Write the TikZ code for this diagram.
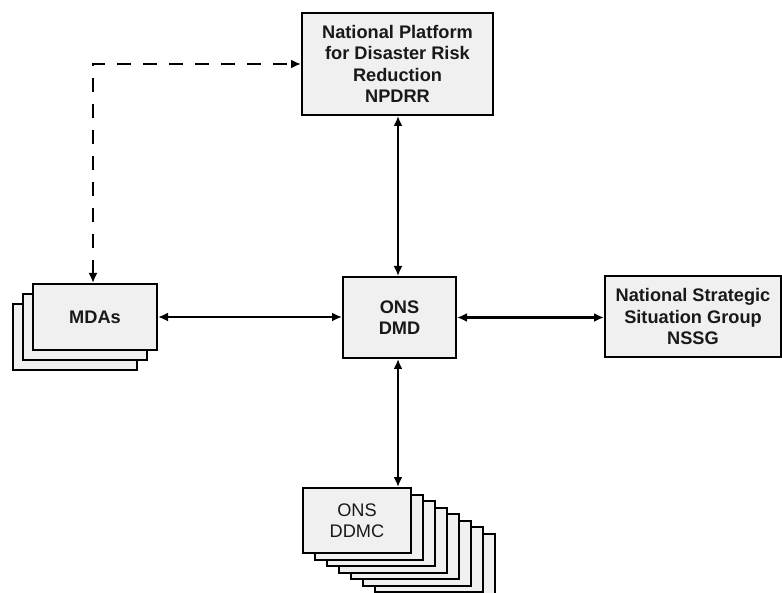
\documentclass[tikz,border=0pt]{standalone}
\usepackage{fontspec}
\setmainfont{Liberation Sans}
\usetikzlibrary{arrows.meta}
\definecolor{boxfill}{HTML}{F0F0F0}
\tikzset{
  box/.style={draw=black, line width=2pt, fill=boxfill, inner sep=0pt, align=center,
    font=\fontsize{18.2}{21.5}\selectfont\bfseries, text=black!90},
  plainbox/.style={box, font=\fontsize{18.2}{21.5}\selectfont},
  conn/.style={line width=2.4pt, {Latex[length=10pt,width=9pt]}-{Latex[length=10pt,width=9pt]}},
  dashconn/.style={conn, dash pattern=on 14pt off 12pt}
}
\begin{document}
\begin{tikzpicture}[x=1pt,y=-1pt]
\useasboundingbox (0,0) rectangle (782,593);
\clip (0,0) rectangle (782,593);
% NPDRR
\node[box, minimum width=191pt, minimum height=102pt] (npdrr) at (397.5,64)
  {National Platform\\for Disaster Risk\\Reduction\\NPDRR};
% ONS DMD
\node[box, minimum width=113pt, minimum height=81pt] (dmd) at (399.5,317.5) {ONS\\DMD};
% NSSG
\node[box, minimum width=176pt, minimum height=81pt] (nssg) at (693,316.5)
  {National Strategic\\Situation Group\\NSSG};
% MDAs stack
\node[box, minimum width=124pt, minimum height=66pt] (mdas2) at (75,337) {};
\node[box, minimum width=124pt, minimum height=66pt] (mdas1) at (85,327) {};
\node[box, minimum width=124pt, minimum height=66pt] (mdas0) at (95,317) {MDAs};
% DDMC stack
\foreach \k in {7,6,...,1}{
  \node[box, minimum width=108pt, minimum height=65pt] (ddmc\k) at ({357+12*\k},{520.5+6.5*\k}) {};
}
\node[plainbox, minimum width=108pt, minimum height=65pt] (ddmc0) at (357,520.5) {ONS\\DDMC};
% connectors
\coordinate (vx) at (398,0);
\draw[conn] (npdrr.south -| vx) -- (dmd.north -| vx);
\draw[conn] (dmd.south -| vx) -- (ddmc0.north -| vx);
\draw[conn] (mdas0.east) -- (mdas0.east -| dmd.west);
\draw[conn] (dmd.east) -- (dmd.east -| nssg.west);
\coordinate (dx) at (93,0);
\draw[dashconn] (mdas0.north -| dx) |- (npdrr.west);
\end{tikzpicture}
\end{document}
